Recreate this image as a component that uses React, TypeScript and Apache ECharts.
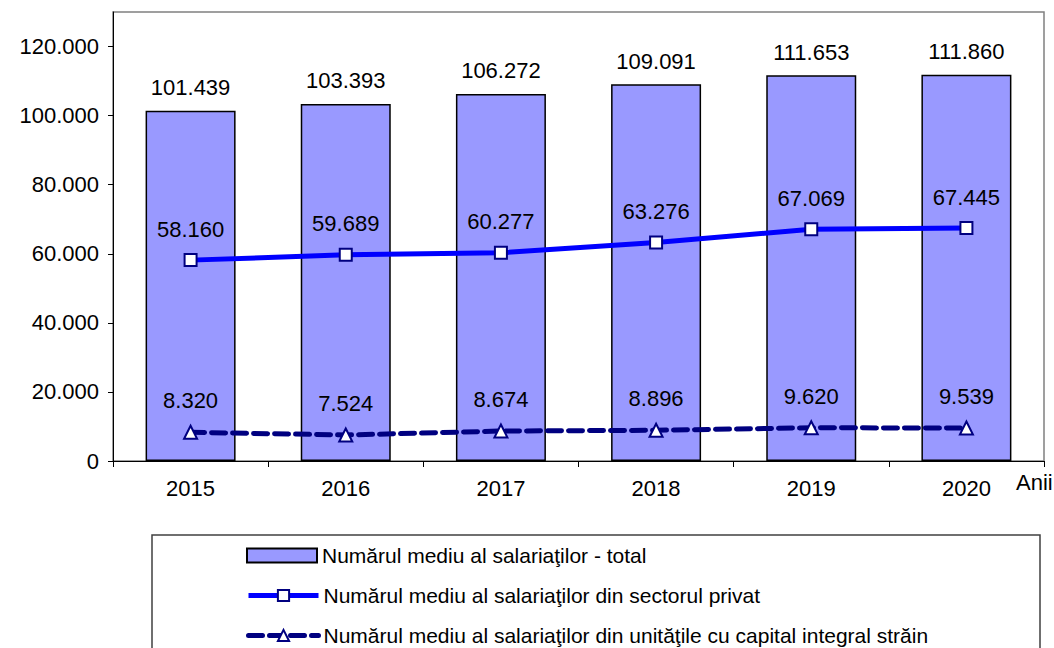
import React, { useEffect, useRef } from "react";
import * as echarts from "echarts";

const years = ["2015", "2016", "2017", "2018", "2019", "2020"];
const totalEmployees = [101439, 103393, 106272, 109091, 111653, 111860];
const privateSector = [58160, 59689, 60277, 63276, 67069, 67445];
const foreignCapital = [8320, 7524, 8674, 8896, 9620, 9539];
const yTicks = [0, 20000, 40000, 60000, 80000, 100000, 120000];

const seriesNames = [
  "Numărul mediu al salariaţilor - total",
  "Numărul mediu al salariaţilor din sectorul privat",
  "Numărul mediu al salariaţilor din unităţile cu capital integral străin",
];

const fmt = (v: number) =>
  v === 0 ? "0" : String(Math.round(v)).replace(/\B(?=(\d{3})+(?!\d))/g, ".");

const FONT = "'Liberation Sans', Arial, sans-serif";

const legendRow = (name: string, top: number, extra: any = {}) => ({
  orient: "vertical",
  left: 241,
  top,
  itemWidth: 70,
  itemHeight: 14,
  textStyle: { fontFamily: FONT, fontSize: 21, color: "#000", lineHeight: 20 },
  data: [name],
  ...extra,
});

export default function App() {
  const ref = useRef<HTMLDivElement>(null);
  useEffect(() => {
    if (!ref.current) return;
    const chart = echarts.init(ref.current, undefined, { renderer: "svg" });
    chart.setOption({
      animation: false,
      backgroundColor: "#ffffff",
      textStyle: { fontFamily: FONT, color: "#000" },
      grid: {
        left: 113,
        right: 10,
        top: 12,
        bottom: 187,
        show: true,
        borderColor: "#808080",
        borderWidth: 1.5,
        backgroundColor: "transparent",
      },
      legend: [
        legendRow(seriesNames[0], 540, { icon: "rect" }),
        legendRow(seriesNames[1], 580, { lineStyle: { width: 5 } }),
        legendRow(seriesNames[2], 620, { lineStyle: { width: 5 } }),
      ],
      xAxis: {
        type: "category",
        data: years,
        axisLine: { lineStyle: { color: "#000", width: 1 } },
        axisTick: { show: true, length: 6, lineStyle: { color: "#000" }, alignWithLabel: false },
        axisLabel: { fontSize: 22, color: "#000", fontFamily: FONT, margin: 16 },
      },
      yAxis: {
        type: "value",
        min: 0,
        max: 130000,
        interval: 10000,
        axisLine: { show: true, lineStyle: { color: "#000", width: 1 } },
        axisTick: { show: true, length: 5, lineStyle: { color: "#000" }, customValues: yTicks },
        axisLabel: {
          fontSize: 22,
          color: "#000",
          fontFamily: FONT,
          margin: 14,
          customValues: yTicks,
          formatter: (v: number) => fmt(v),
        },
        splitLine: { show: false },
      },
      graphic: [
        {
          type: "text",
          left: 1016,
          top: 471,
          style: { text: "Anii", font: `22px ${FONT}`, fill: "#000" },
        },
        {
          type: "rect",
          shape: { x: 152, y: 535, width: 888, height: 130 },
          style: { fill: "none", stroke: "#404040", lineWidth: 1.5 },
          z: -1,
        },
      ],
      series: [
        {
          name: seriesNames[0],
          type: "bar",
          data: totalEmployees,
          barCategoryGap: "42%",
          itemStyle: { color: "#9999FF", borderColor: "#000", borderWidth: 1.5 },
          label: {
            show: true,
            position: "top",
            distance: 12,
            fontSize: 22,
            color: "#000",
            fontFamily: FONT,
            formatter: (p: any) => fmt(p.value),
          },
        },
        {
          name: seriesNames[1],
          type: "line",
          data: privateSector,
          symbol: "rect",
          symbolSize: 12,
          lineStyle: { color: "#0000FF", width: 5 },
          itemStyle: { color: "#ffffff", borderColor: "#000080", borderWidth: 2 },
          label: {
            show: true,
            position: "top",
            distance: 13,
            fontSize: 22,
            color: "#000",
            fontFamily: FONT,
            formatter: (p: any) => fmt(p.value),
          },
          z: 3,
        },
        {
          name: seriesNames[2],
          type: "line",
          data: foreignCapital,
          symbol: "triangle",
          symbolSize: 13,
          lineStyle: { color: "#000080", width: 5, type: [14, 7], cap: "round" },
          itemStyle: { color: "#ffffff", borderColor: "#000080", borderWidth: 2 },
          label: {
            show: true,
            position: "top",
            distance: 13,
            fontSize: 22,
            color: "#000",
            fontFamily: FONT,
            formatter: (p: any) => fmt(p.value),
          },
          z: 3,
        },
      ],
    });
    return () => chart.dispose();
  }, []);
  return <div ref={ref} style={{ width: 1054, height: 648, position: "absolute", left: 0, top: 0 }} />;
}
